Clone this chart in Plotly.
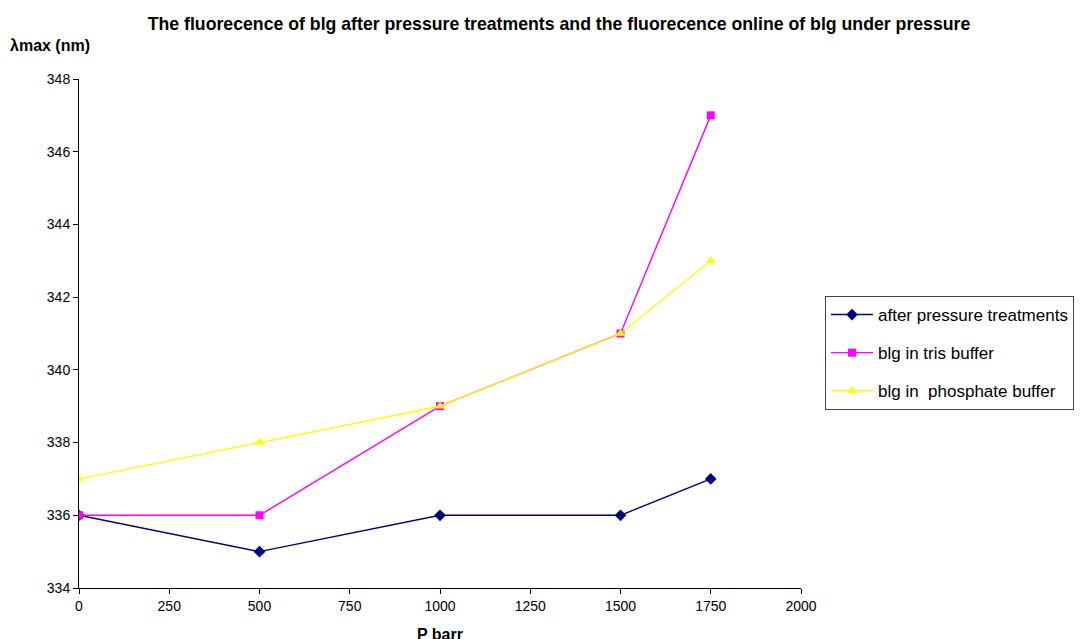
import plotly.graph_objects as go

pressure = [0, 500, 1000, 1500, 1750]
after_treat = [336, 335, 336, 336, 337]
tris_buffer = [336, 336, 339, 341, 347]
phosphate_buffer = [337, 338, 339, 341, 343]

series = [
    ("after pressure treatments", after_treat, "#000080", "diamond", 9),
    ("blg in tris buffer", tris_buffer, "#FF00FF", "square", 8),
    ("blg in  phosphate buffer", phosphate_buffer, "#FFFF00", "triangle-up", 9),
]

fig = go.Figure()
for i, (name, vals, col, sym, sz) in enumerate(series):
    fig.add_trace(go.Scatter(
        x=pressure, y=vals, name=name, mode="lines+markers",
        legendgroup=f"g{i}",
        line=dict(color=col, width=1.4),
        marker=dict(symbol=sym, size=sz, color=col),
    ))

# page body has an 8px default margin; figure is offset accordingly
W, H = 1075, 631
font = "Liberation Sans, Arial, sans-serif"
fig.update_layout(
    width=W, height=H,
    margin=dict(l=71, r=282, t=71, b=51, autoexpand=False),
    paper_bgcolor="white", plot_bgcolor="white",
    font=dict(family=font, size=14, color="black"),
    title=dict(text="<b>The fluorecence of blg after pressure treatments and the fluorecence online of blg under pressure</b>",
               x=(559 - 8) / W, xanchor="center", y=1 - (24 - 8) / H, yanchor="middle",
               font=dict(size=17.7, family=font)),
    showlegend=True,
    legend=dict(x=(825 - 79) / 722, y=(588 - 296) / 509, xanchor="left", yanchor="top",
                bordercolor="#444444", borderwidth=1, bgcolor="white",
                font=dict(size=17, family=font), tracegroupgap=13,
                itemwidth=42),
    xaxis=dict(range=[0, 2000], dtick=250, tick0=0, showgrid=False, zeroline=False,
               showline=True, linecolor="black", linewidth=1,
               ticks="outside", ticklen=5, tickcolor="black",
               tickfont=dict(size=14)),
    yaxis=dict(range=[334, 348], dtick=2, tick0=334, showgrid=False, zeroline=False,
               showline=True, linecolor="black", linewidth=1,
               ticks="outside", ticklen=5, tickcolor="black",
               tickfont=dict(size=14)),
    annotations=[
        dict(text="<b>λmax (nm)</b>", xref="paper", yref="paper",
             x=-(79 - 8) / 722, y=1 + (79 - 46) / 509, xanchor="left", yanchor="middle",
             showarrow=False, font=dict(size=16, family=font)),
        dict(text="<b>P barr</b>", xref="paper", yref="paper",
             x=0.5, y=-(634 - 588) / 509, xanchor="center", yanchor="middle",
             showarrow=False, font=dict(size=16, family=font)),
    ],
)

fig.write_html("out.html")
